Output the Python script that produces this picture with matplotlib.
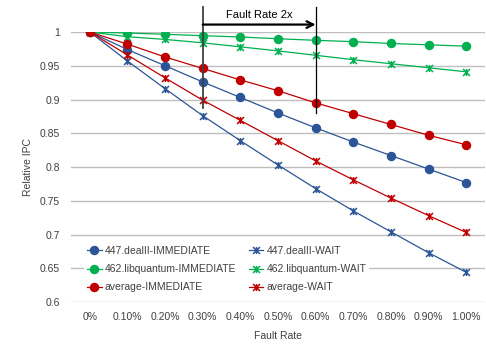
import matplotlib
matplotlib.use("Agg")
import matplotlib.pyplot as plt
from matplotlib.path import Path

plt.rcParams['font.family'] = ['Liberation Sans', 'DejaVu Sans']

fault_rates = ["0%", "0.10%", "0.20%", "0.30%", "0.40%", "0.50%",
               "0.60%", "0.70%", "0.80%", "0.90%", "1.00%"]

dealII_imm = [1.0, 0.974, 0.950, 0.926, 0.903, 0.880, 0.858, 0.837, 0.817, 0.797, 0.777]
dealII_wait = [1.0, 0.957, 0.916, 0.876, 0.839, 0.803, 0.768, 0.735, 0.704, 0.673, 0.644]
libq_imm = [1.0, 0.9985, 0.9966, 0.9945, 0.9926, 0.990, 0.9877, 0.9857, 0.983, 0.981, 0.979]
libq_wait = [1.0, 0.993, 0.989, 0.984, 0.978, 0.972, 0.9655, 0.959, 0.953, 0.947, 0.941]
avg_imm = [1.0, 0.982, 0.963, 0.946, 0.929, 0.913, 0.895, 0.879, 0.863, 0.847, 0.833]
avg_wait = [1.0, 0.966, 0.932, 0.899, 0.869, 0.839, 0.809, 0.781, 0.754, 0.728, 0.703]

y_ticks = [0.6, 0.65, 0.7, 0.75, 0.8, 0.85, 0.9, 0.95, 1.0]
y_tick_labels = ["0.6", "0.65", "0.7", "0.75", "0.8", "0.85", "0.9", "0.95", "1"]

blue = '#2B5597'
green = '#00B050'
red = '#C00000'

# Excel-like star marker (x with a vertical bar)
star = Path([(-1, -1), (1, 1), (-1, 1), (1, -1), (0, -1), (0, 1)],
            [Path.MOVETO, Path.LINETO, Path.MOVETO, Path.LINETO, Path.MOVETO, Path.LINETO])

W, H = 486, 347
fig = plt.figure(figsize=(W / 100, H / 100), dpi=100)
ax = fig.add_axes([71 / W, 1 - 302 / H, (485 - 71) / W, (302 - 32) / H])

x = list(range(len(fault_rates)))
series = [
    ("447.dealII-IMMEDIATE", dealII_imm, blue, 'o'),
    ("447.dealII-WAIT", dealII_wait, blue, star),
    ("462.libquantum-IMMEDIATE", libq_imm, green, 'o'),
    ("462.libquantum-WAIT", libq_wait, green, star),
    ("average-IMMEDIATE", avg_imm, red, 'o'),
    ("average-WAIT", avg_wait, red, star),
]
handles = {}
for name, vals, col, mk in series:
    if mk == 'o':
        h, = ax.plot(x, vals, color=col, lw=0.9, marker='o', markersize=5.8,
                     markerfacecolor=col, markeredgecolor=col, label=name, zorder=3)
    else:
        h, = ax.plot(x, vals, color=col, lw=0.9, marker=star, markersize=5,
                     markerfacecolor='none', markeredgecolor=col, markeredgewidth=1.1,
                     label=name, zorder=3)
    handles[name] = h

ax.set_xlim(-0.5, len(fault_rates) - 0.5)
ax.set_ylim(0.6, 1.0)
ax.set_yticks(y_ticks)
ax.set_yticklabels(y_tick_labels)
ax.set_xticks(x)
ax.set_xticklabels(fault_rates)
ax.yaxis.grid(True, color='#BFBFBF', lw=1.0)
ax.set_axisbelow(True)
for s in ax.spines.values():
    s.set_visible(False)
ax.tick_params(axis='both', length=0, labelsize=7.5, colors='#404040')
ax.tick_params(axis='x', pad=7)
ax.tick_params(axis='y', pad=8)

ax.set_xlabel("Fault Rate", fontsize=7.5, color='#404040', labelpad=7)
ax.set_ylabel("Relative IPC", fontsize=7.5, color='#404040', labelpad=5)

order = ["447.dealII-IMMEDIATE", "462.libquantum-IMMEDIATE", "average-IMMEDIATE",
         "447.dealII-WAIT", "462.libquantum-WAIT", "average-WAIT"]
leg = ax.legend([handles[n] for n in order], order, ncol=2, loc='upper left',
                bbox_to_anchor=(84 / W, 1 - 243 / H), bbox_transform=fig.transFigure,
                fontsize=7.5, frameon=True, facecolor='white', edgecolor='none',
                framealpha=1, fancybox=False, handlelength=1.4, handletextpad=0.3,
                columnspacing=1.2, labelspacing=0.78, borderpad=0.3, borderaxespad=0)
for t in leg.get_texts():
    t.set_color('#404040')
leg.set_zorder(4)

# Annotation
ax.plot([3, 3], [0.8874, 1.037], color='#404040', lw=1.3, clip_on=False, zorder=5)
ax.plot([6, 6], [0.880, 1.037], color='black', lw=0.9, clip_on=False, zorder=5)
ax.annotate("", xy=(6, 1.011), xytext=(3, 1.011),
            arrowprops=dict(arrowstyle='->', color='black', lw=1.6,
                            mutation_scale=12, shrinkA=0, shrinkB=0),
            annotation_clip=False, zorder=5)
ax.text(4.5, 1.0255, "Fault Rate 2x", ha='center', va='center', fontsize=8,
        color='black')

fig.savefig("out.png", dpi=100)
